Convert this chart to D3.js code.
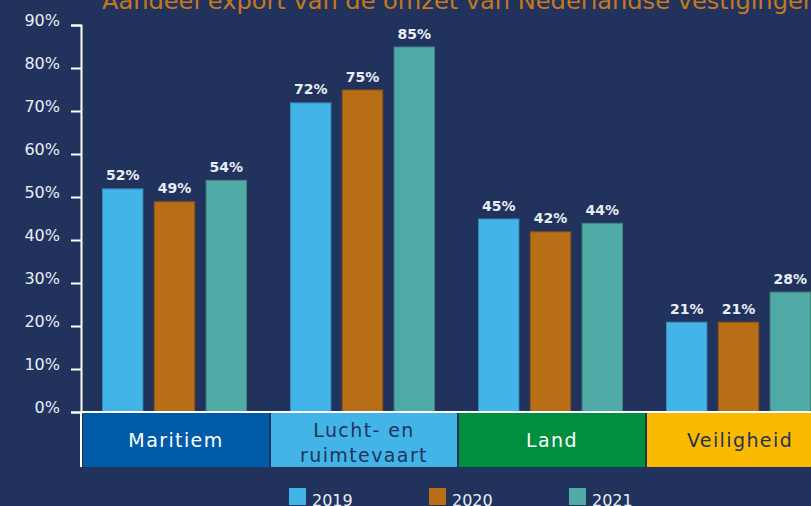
<!DOCTYPE html>
<html>
<head>
<meta charset="utf-8">
<script src="https://cdnjs.cloudflare.com/ajax/libs/d3/7.8.5/d3.min.js"></script>
<style>
    html, body { margin: 0; padding: 0; background: #21335d; overflow: hidden; }
    svg { display: block; }
</style>
</head>
<body>
<div id="chart"></div>
<script>
var categories = ['Maritiem', 'Lucht- en\nruimtevaart', 'Land', 'Veiligheid'];
var years = ['2019', '2020', '2021'];
var values2019 = [52, 72, 45, 21];
var values2020 = [49, 75, 42, 21];
var values2021 = [54, 85, 44, 28];
var yTicks = [0, 10, 20, 30, 40, 50, 60, 70, 80, 90];
var titleText = 'Aandeel export van de omzet van Nederlandse vestigingen';

var BG = '#21335d',
    NAVY = '#22335c',
    seriesColors = ['#42b4e7', '#b86e16', '#50aaa6'],
    categoryColors = ['#005ba8', '#42b4e7', '#008f3f', '#fbb900'],
    categoryTextColors = ['#ffffff', NAVY, '#ffffff', NAVY];

var width = 811,
    height = 506;

var margin = {
    top: 25,
    left: 82,
    bottom: 412
};

var svg = d3.select('#chart').append('svg')
    .attr('width', width)
    .attr('height', height);

svg.append('rect')
    .attr('width', width)
    .attr('height', height)
    .attr('fill', BG);

// title is cut off at the top in the original
svg.append('text')
    .attr('x', 102)
    .attr('y', 8.5)
    .attr('fill', '#c6781b')
    .style('font-family', 'DejaVu Sans')
    .style('font-size', '23px')
    .attr('textLength', 716)
    .attr('lengthAdjust', 'spacingAndGlyphs')
    .text(titleText);

var x0 = d3.scaleBand()
    .domain(categories)
    .range([margin.left, margin.left + 188 * categories.length]);

var x1 = d3.scaleBand()
    .domain(years)
    .range([20, 165])
    .paddingInner(0.2);

var y = d3.scaleLinear()
    .domain([0, 90])
    .range([margin.bottom, margin.top]);

var series = [values2019, values2020, values2021];

var rows = categories.map(function (c, i) {
    return years.map(function (yr, j) {
        return { category: c, year: yr, value: series[j][i], color: seriesColors[j] };
    });
});

var group = svg.selectAll('.group')
    .data(rows)
    .enter().append('g')
    .attr('class', 'group')
    .attr('transform', function (d, i) { return 'translate(' + x0(categories[i]) + ',0)'; });

group.selectAll('rect')
    .data(function (d) { return d; })
    .enter().append('rect')
    .attr('x', function (d) { return x1(d.year) + 0.5; })
    .attr('y', function (d) { return y(d.value) + 0.5; })
    .attr('width', x1.bandwidth() - 1)
    .attr('height', function (d) { return y(0) - y(d.value) - 1; })
    .attr('fill', function (d) { return d.color; })
    .attr('stroke', function (d) { return d3.color(d.color).darker(0.7); })
    .attr('stroke-width', 1);

group.selectAll('.value')
    .data(function (d) { return d; })
    .enter().append('text')
    .attr('class', 'value')
    .attr('x', function (d) { return x1(d.year) + x1.bandwidth() / 2; })
    .attr('y', function (d) { return y(d.value) - 8; })
    .attr('text-anchor', 'middle')
    .attr('fill', '#e9eef6')
    .style('font-family', 'DejaVu Sans')
    .style('font-weight', 'bold')
    .style('font-size', '14px')
    .text(function (d) { return d.value + '%'; });

// category boxes under the axis
var boxTop = margin.bottom + 1,
    boxBottom = 467;

var box = svg.selectAll('.box')
    .data(categories)
    .enter().append('g')
    .attr('class', 'box')
    .attr('transform', function (d) { return 'translate(' + x0(d) + ',0)'; });

box.append('rect')
    .attr('x', 1)
    .attr('y', boxTop)
    .attr('width', x0.bandwidth() - 2)
    .attr('height', boxBottom - boxTop)
    .attr('fill', function (d, i) { return categoryColors[i]; });

box.append('text')
    .attr('text-anchor', 'middle')
    .attr('fill', function (d, i) { return categoryTextColors[i]; })
    .style('font-family', 'DejaVu Sans')
    .style('font-size', '19px')
    .style('letter-spacing', '1.4px')
    .each(function (d) {
        var lines = d.split('\n'),
            el = d3.select(this),
            first = lines.length > 1 ? 437 : 447;
        lines.forEach(function (l, k) {
            el.append('tspan')
                .attr('x', x0.bandwidth() / 2)
                .attr('y', first + k * 24.5)
                .text(l);
        });
    });

// y axis
var yAxis = d3.axisLeft(y)
    .tickValues(yTicks)
    .tickSize(10)
    .tickPadding(11)
    .tickFormat(function (d) { return d + '%'; });

var axisG = svg.append('g')
    .attr('transform', 'translate(' + (margin.left - 1) + ',0)')
    .call(yAxis);

axisG.select('.domain')
    .attr('stroke', '#ffffff')
    .attr('stroke-width', 2);

axisG.selectAll('.tick line')
    .attr('stroke', '#ffffff')
    .attr('stroke-width', 2);

axisG.selectAll('.tick text')
    .attr('dy', 0)
    .attr('fill', '#e9eef6')
    .style('font-family', 'DejaVu Sans')
    .style('font-size', '16px');

axisG.append('line')
    .attr('x1', 0)
    .attr('x2', 0)
    .attr('y1', y(0))
    .attr('y2', boxBottom)
    .attr('stroke', '#ffffff')
    .attr('stroke-width', 2);

svg.append('line')
    .attr('x1', margin.left - 1)
    .attr('x2', width)
    .attr('y1', y(0))
    .attr('y2', y(0))
    .attr('stroke', '#ffffff')
    .attr('stroke-width', 2);

// legend
var legend = svg.selectAll('.legend')
    .data(years)
    .enter().append('g')
    .attr('class', 'legend')
    .attr('transform', function (d, i) { return 'translate(' + (289 + i * 140) + ',488)'; });

legend.append('rect')
    .attr('width', 17)
    .attr('height', 17)
    .attr('fill', function (d, i) { return seriesColors[i]; });

legend.append('text')
    .attr('x', 23)
    .attr('y', 18)
    .attr('fill', '#e9eef6')
    .style('font-family', 'DejaVu Sans')
    .style('font-size', '16px')
    .text(function (d) { return d; });
</script>
</body>
</html>
